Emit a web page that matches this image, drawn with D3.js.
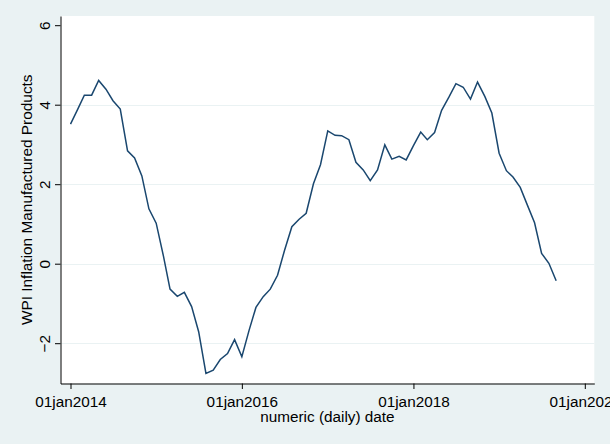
<!DOCTYPE html>
<html>
<head>
<meta charset="utf-8">
<script src="https://cdn.jsdelivr.net/npm/d3@7"></script>
<style>
  html, body { margin: 0; padding: 0; background: #EAF2F3; }
  svg { display: block; }
  text { font-family: "Liberation Sans", Arial, sans-serif; fill: #000; }
</style>
</head>
<body>
<svg id="chart" width="610" height="444"></svg>
<script>
// ---- data (monthly, Jan 2014 .. Sep 2019) ----
const startMonth = "2014-01-01";
const endMonth = "2019-09-01";
const wpiValues = [
  3.51, 3.89, 4.24, 4.24, 4.61, 4.39, 4.10, 3.89, 2.84, 2.66, 2.21, 1.38,
  1.02, 0.19, -0.64, -0.82, -0.72, -1.08, -1.71, -2.76, -2.68, -2.41, -2.26, -1.91,
  -2.34, -1.67, -1.10, -0.83, -0.64, -0.29, 0.34, 0.93, 1.12, 1.27, 2.01, 2.49,
  3.34, 3.23, 3.22, 3.12, 2.55, 2.36, 2.09, 2.36, 2.99, 2.63, 2.70, 2.61,
  2.97, 3.31, 3.12, 3.30, 3.86, 4.19, 4.53, 4.44, 4.14, 4.57, 4.21, 3.79,
  2.78, 2.34, 2.18, 1.92, 1.48, 1.03, 0.26, 0.01, -0.43
];
const xTickLabels = ["2014-01-01", "2016-01-01", "2018-01-01", "2020-01-01"];
const yTickValues = [-2, 0, 2, 4, 6];
const yGridValues = [-2, 0, 2, 4];
const xTitle = "numeric (daily) date";
const yTitle = "WPI Inflation Manufactured Products";

// ---- build ----
const parse = d3.utcParse("%Y-%m-%d");
const months = d3.utcMonth.range(parse(startMonth), d3.utcMonth.offset(parse(endMonth), 1));
const data = months.map((d, i) => ({ date: d, value: wpiValues[i] }));
const xTicks = xTickLabels.map(parse);

const svg = d3.select("#chart");
const plot = { left: 60.5, right: 594.3, top: 16, bottom: 383.5 };

const x = d3.scaleUtc().domain([xTicks[0], xTicks[3]]).range([70.5, 584.8]);
x.domain([x.invert(plot.left), x.invert(plot.right)]).range([plot.left, plot.right]);

const y = d3.scaleLinear().domain([-2, 6]).range([343.2, 25.2]);
y.domain([y.invert(plot.bottom), y.invert(plot.top)]).range([plot.bottom, plot.top]);

// plot region
svg.append("rect")
  .attr("x", plot.left).attr("y", plot.top)
  .attr("width", plot.right - plot.left).attr("height", plot.bottom - plot.top)
  .attr("fill", "#fff");

// gridlines
svg.append("g").selectAll("line").data(yGridValues).join("line")
  .attr("x1", plot.left).attr("x2", plot.right)
  .attr("y1", d => Math.round(y(d)) + 0.5).attr("y2", d => Math.round(y(d)) + 0.5)
  .attr("stroke", "#EAF2F3").attr("stroke-width", 1);

// line
const line = d3.line().x(d => x(d.date)).y(d => y(d.value));
svg.append("path").datum(data)
  .attr("d", line)
  .attr("fill", "none")
  .attr("stroke", "#1A476F")
  .attr("stroke-width", 1.5)
  .attr("stroke-linejoin", "miter");

const fmt = d => d3.utcFormat("%d%b%Y")(d).toLowerCase();

// x axis
const xAxis = svg.append("g")
  .attr("transform", `translate(0,${plot.bottom})`)
  .call(d3.axisBottom(x).tickValues(xTicks).tickFormat(fmt).tickSize(5.5).tickPadding(7.6).tickSizeOuter(0));
xAxis.select(".domain").attr("stroke", "#000");
xAxis.selectAll(".tick line").attr("stroke", "#000");
xAxis.selectAll("text").style("font-size", "15.3px").attr("fill", "#000");

// y axis
const yAxis = svg.append("g")
  .attr("transform", `translate(${plot.left},0)`)
  .call(d3.axisLeft(y).tickValues(yTickValues).tickFormat(d3.format("d")).tickSize(5.5).tickSizeOuter(0));
yAxis.select(".domain").attr("stroke", "#000");
yAxis.selectAll(".tick line").attr("stroke", "#000");
yAxis.selectAll("text")
  .style("font-size", "15.3px")
  .attr("transform", "rotate(-90)")
  .attr("x", 0).attr("y", -10.5).attr("dy", 0)
  .attr("text-anchor", "middle").attr("fill", "#000");

// titles
svg.append("text")
  .attr("x", (plot.left + plot.right) / 2).attr("y", 421.7)
  .attr("text-anchor", "middle").style("font-size", "15.3px")
  .text(xTitle);

svg.append("text")
  .attr("transform", `translate(32,${(plot.top + plot.bottom) / 2}) rotate(-90)`)
  .attr("text-anchor", "middle").style("font-size", "15.4px")
  .text(yTitle);
</script>
</body>
</html>
